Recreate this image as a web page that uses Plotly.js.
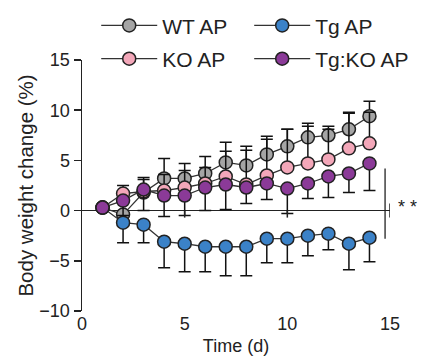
<!DOCTYPE html>
<html>
<head>
<meta charset="utf-8">
<script src="https://cdn.plot.ly/plotly-3.0.1.min.js"></script>
<style>html,body{margin:0;padding:0;background:#fff;}#chart{width:422px;height:358px;}</style>
</head>
<body>
<div id="chart"></div>
<script>
const days = [1,2,3,4,5,6,7,8,9,10,11,12,13,14];
const seriesNames = ['WT AP','Tg AP','KO AP','Tg:KO AP'];
const wtAP   = [0.3,-0.4,1.8,3.2,3.2,3.7,4.8,4.5,5.6,6.4,7.3,7.5,8.1,9.4];
const wtErr  = [0.3,2.1,1.5,2.0,1.5,1.7,2.0,1.9,1.8,1.7,1.4,0.9,1.6,1.5];
const tgAP   = [0.3,-1.2,-1.4,-3.1,-3.3,-3.6,-3.6,-3.6,-2.8,-2.8,-2.5,-2.3,-3.3,-2.7];
const tgErr  = [0.3,2.0,1.8,2.6,2.8,2.5,2.9,2.9,2.4,2.4,2.0,1.6,2.6,2.4];
const koAP   = [0.3,1.7,1.9,2.0,2.3,2.7,3.4,2.6,3.5,4.3,4.7,5.1,6.2,6.7];
const koErr  = [0.3,0.8,1.2,1.6,1.7,1.6,2.5,3.4,3.6,3.8,3.7,3.0,3.6,3.1];
const tgkoAP = [0.3,1.0,2.1,1.5,1.5,2.3,2.6,2.3,2.7,2.2,2.7,3.4,3.7,4.7];
const tgkoErr= [0.3,1.5,2.1,2.1,2.0,2.3,2.5,1.6,1.6,2.5,1.5,2.1,1.9,2.7];
const xTicks = [0,5,10,15];
const yTicks = [-10,-5,0,5,10,15];
const colors = ['#a5a5a5','#3b82c8','#f3a7b9','#8b3a98'];
const zeros = days.map(()=>0);

function tr(name, y, errUp, errDown, color, legend){
  return {
    type:'scatter', mode:'lines+markers', x:days, y:y, name:name, legend:legend,
    cliponaxis:false,
    line:{color:'#333', width:1.3},
    marker:{color:color, size:13, line:{color:'#222', width:1.5}},
    error_y:{type:'data', symmetric:false, array:errUp, arrayminus:errDown, color:'#111', thickness:1.5, width:6}
  };
}
const data = [
  tr(seriesNames[0], wtAP, wtErr, zeros, colors[0], 'legend'),
  tr(seriesNames[1], tgAP, zeros, tgErr, colors[1], 'legend2'),
  tr(seriesNames[2], koAP, koErr, zeros, colors[2], 'legend3'),
  tr(seriesNames[3], tgkoAP, zeros, tgkoErr, colors[3], 'legend4')
];
const font = {family:'Liberation Sans, Arial, sans-serif', color:'#222'};
const legFont = {size:21, color:'#222', family:font.family};
function leg(x, y){
  return {orientation:'h', xref:'container', yref:'container', x:x, y:y, xanchor:'left', yanchor:'middle', itemwidth:56, font:legFont, bgcolor:'rgba(0,0,0,0)'};
}
const col1 = 0.228, col2 = 0.5905, row1 = 0.928, row2 = 0.835;
const layout = {
  width:422, height:358,
  margin:{l:82, r:32, t:60, b:47, autoexpand:false},
  paper_bgcolor:'#fff', plot_bgcolor:'#fff',
  font:font,
  showlegend:true,
  legend:leg(col1,row1), legend2:leg(col2,row1), legend3:leg(col1,row2), legend4:leg(col2,row2),
  xaxis:{range:[0,15], tickvals:xTicks, ticks:'', showline:false, showgrid:false, zeroline:false,
    tickfont:{size:18, color:'#222'}, title:{text:'Time (d)', font:{size:18, color:'#222'}, standoff:6}},
  yaxis:{range:[-10,15], tickvals:yTicks, ticks:'outside', ticklen:7, tickwidth:1.5, tickcolor:'#222',
    showline:true, linecolor:'#222', linewidth:1.5, showgrid:false,
    zeroline:true, zerolinecolor:'#222', zerolinewidth:1.5,
    tickfont:{size:18, color:'#222'}, title:{text:'Body weight change (%)', font:{size:20.5, color:'#222'}, standoff:0}},
  shapes:[
    {type:'line', xref:'x', yref:'y', x0:5, x1:5, y0:0, y1:-7, ysizemode:'pixel', yanchor:0, line:{color:'#222', width:1.5}},
    {type:'line', xref:'x', yref:'y', x0:10, x1:10, y0:0, y1:-7, ysizemode:'pixel', yanchor:0, line:{color:'#222', width:1.5}},
    {type:'line', xref:'x', yref:'y', x0:15, x1:15, y0:7, y1:-7, ysizemode:'pixel', yanchor:0, line:{color:'#222', width:1.5}},
    {type:'line', xref:'x', yref:'y', x0:14.76, x1:14.76, y0:4.2, y1:-2.8, line:{color:'#222', width:1.3}}
  ],
  annotations:[
    {xref:'paper', yref:'y', x:1.095, y:0.4, text:'* *', showarrow:false, font:{size:18, color:'#222'}}
  ]
};
Plotly.newPlot('chart', data, layout, {displayModeBar:false, staticPlot:true});
</script>
</body>
</html>
